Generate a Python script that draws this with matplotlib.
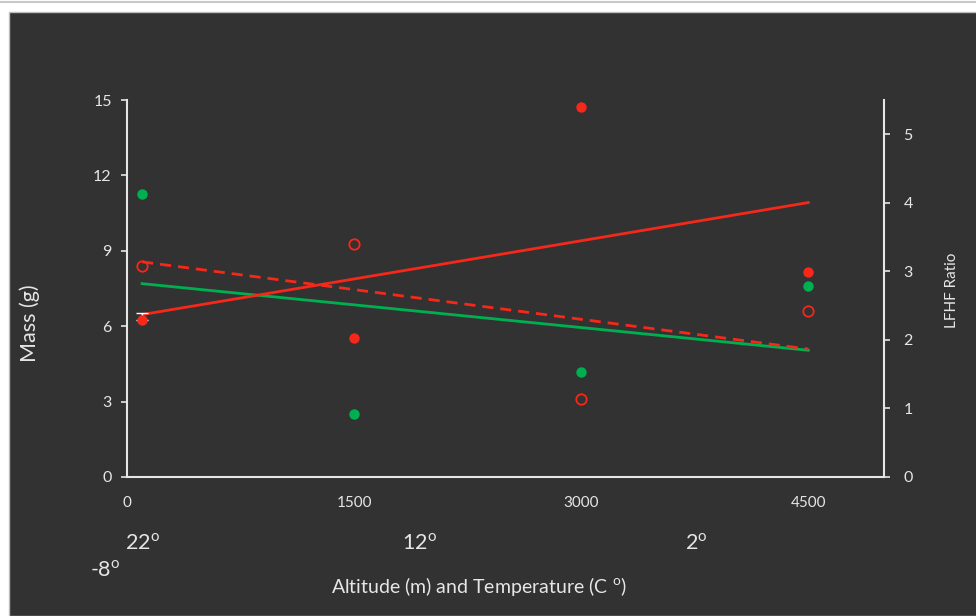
import numpy as np
import matplotlib
matplotlib.use("Agg")
import matplotlib.pyplot as plt
from matplotlib.patches import Rectangle
import matplotlib.transforms as mtransforms

plt.rcParams['font.family'] = ['Lato', 'DejaVu Sans']

# Data
altitude = [100, 1500, 3000, 4500]
mass_green = [11.26, 2.51, 4.16, 7.6]
mass_red = [6.25, 5.53, 14.72, 8.16]
lfhf_red = [3.08, 3.40, 1.14, 2.42]
red_err_upper = [0.28, 0, 0, 0]
temp_labels = ["22", "12", "2"]
temp_positions = [100, 1930, 3760]
x_ticks = [0, 1500, 3000, 4500]
y_left_ticks = [0, 3, 6, 9, 12, 15]
y_right_ticks = [0, 1, 2, 3, 4, 5]

BG = '#323232'
FG = '#e6e6e6'
GREEN = '#00b050'
RED = '#f5281a'

fig = plt.figure(figsize=(9.76, 6.16), dpi=100)
fig.patch.set_facecolor('white')
fig.add_artist(plt.Line2D([0, 1], [1 - 2/616, 1 - 2/616], transform=fig.transFigure, color='#c8c8c8', lw=1.5, zorder=-20))
fig.add_artist(Rectangle((9/976, 0), 1 - 9/976 + 0.01, 1 - 12/616, transform=fig.transFigure,
                         facecolor=BG, edgecolor='#bdbdbd', lw=1.0, zorder=-10))

ax = fig.add_axes([127/976, 1 - 477/616, (884 - 127)/976, (477 - 100)/616])
ax.set_facecolor('none')
ax2 = ax.twinx()
ax2.set_facecolor('none')

x = np.array(altitude, dtype=float)
xfit = np.array([altitude[0], altitude[-1]], dtype=float)

# trend lines (linear regressions)
pg = np.polyfit(x, mass_green, 1)
pr = np.polyfit(x, mass_red, 1)
po = np.polyfit(x, lfhf_red, 1)
ax.plot(xfit, np.polyval(pg, xfit), color=GREEN, lw=2.0, zorder=3)
ax.plot(xfit, np.polyval(pr, xfit), color=RED, lw=2.0, zorder=3)
ax2.plot(xfit, np.polyval(po, xfit), color=RED, lw=2.0, ls=(0, (4, 2.5)), zorder=3)

# error bar (only where an error is shown)
err = np.array(red_err_upper)
m = err > 0
ax.errorbar(x[m], np.array(mass_red)[m], yerr=[np.zeros(m.sum()), err[m]], fmt='none', ecolor='white',
            elinewidth=1.0, capsize=4, capthick=1.0, zorder=3)

ax.plot(x, mass_green, 'o', color=GREEN, ms=7.5, mew=0, zorder=4)
ax.plot(x, mass_red, 'o', color=RED, ms=7.5, mew=0, zorder=4)
ax2.plot(x, lfhf_red, 'o', mfc='none', mec=RED, ms=7.5, mew=1.3, zorder=4)

ax.set_xlim(0, 5000)
ax.set_ylim(0, 15)
ax2.set_ylim(0, 5.5)
ax.set_xticks(x_ticks)
ax.set_yticks(y_left_ticks)
ax2.set_yticks(y_right_ticks)

for a in (ax, ax2):
    for s in a.spines.values():
        s.set_color(FG)
        s.set_linewidth(1.5)
    a.spines['top'].set_visible(False)
ax.spines['right'].set_visible(False)
ax2.spines['left'].set_visible(False)
ax2.spines['bottom'].set_visible(False)

ax.tick_params(axis='x', length=0, pad=14, colors=FG, labelsize=11)
ax.tick_params(axis='y', length=4, width=1.2, pad=7, colors=FG, labelsize=11.5)
ax2.tick_params(axis='y', length=4, width=1.2, pad=10, colors=FG, labelsize=11.5)

fig.text(30/976, 1 - 323/616, 'Mass (g)', rotation=90, color=FG, fontsize=15.5, ha='center', va='center')
fig.text(952/976, 1 - 290/616, 'LFHF Ratio', rotation=90, color=FG, fontsize=11, ha='center', va='center')
fig.text(479/976, 1 - 586/616, r'Altitude (m) and Temperature (C $^\mathregular{o}$)', color=FG,
         fontsize=14, ha='center', va='center')

trans = mtransforms.blended_transform_factory(ax.transData, fig.transFigure)
for lab, pos in zip(temp_labels, temp_positions):
    ax.text(pos, 1 - 543/616, lab + r'$^\mathregular{o}$', transform=trans, color=FG, fontsize=15.5,
            ha='center', va='center')
fig.text(105/976, 1 - 570/616, r'-8$^\mathregular{o}$', color=FG, fontsize=15.5, ha='center', va='center')

fig.savefig('out.png', dpi=100, facecolor=fig.get_facecolor())
